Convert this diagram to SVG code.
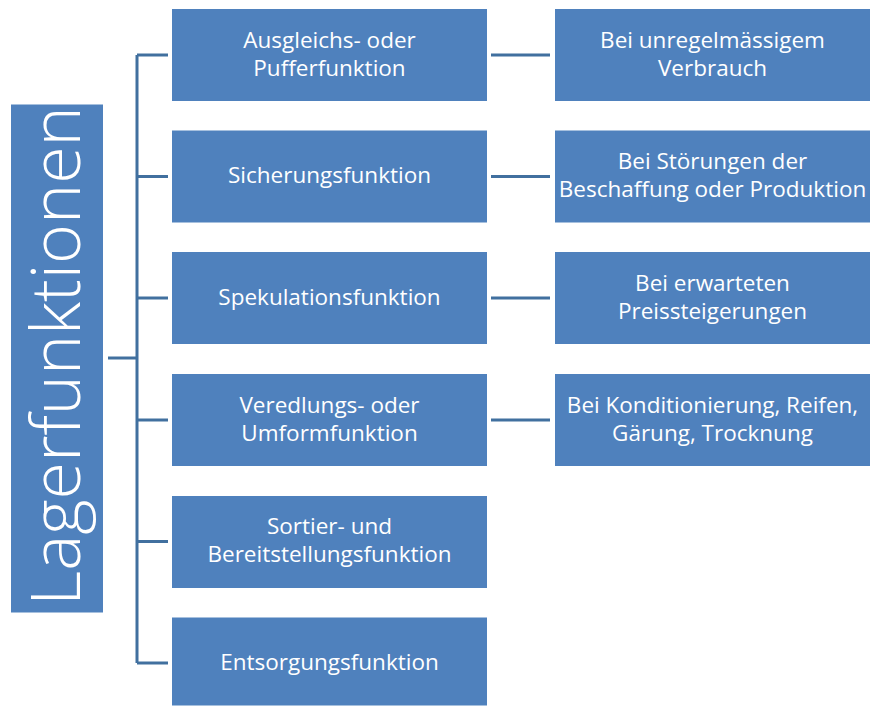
<svg xmlns="http://www.w3.org/2000/svg" width="870" height="706" viewBox="0 0 870 706">
  <style>
    .box { fill: #4F81BD; }
    .lbl { font-family: "Open Sans", "Liberation Sans", sans-serif; font-size: 22.5px; fill: #FFFFFF; text-anchor: middle; }
    .title { font-family: "Open Sans", "Liberation Sans", sans-serif; font-weight: 300; font-size: 68px; fill: #FFFFFF; text-anchor: middle; }
    .conn { stroke: #41709F; stroke-width: 3; fill: none; }
  </style>
  <rect width="870" height="706" fill="#FFFFFF"/>

  <!-- connectors -->
  <g id="connectors" class="conn">
    <line x1="108" y1="358" x2="138" y2="358"/>
    <line x1="137" y1="55" x2="137" y2="663"/>
    <line x1="137" y1="55" x2="168" y2="55"/>
    <line x1="137" y1="176.5" x2="168" y2="176.5"/>
    <line x1="137" y1="298" x2="168" y2="298"/>
    <line x1="137" y1="420" x2="168" y2="420"/>
    <line x1="137" y1="541.5" x2="168" y2="541.5"/>
    <line x1="137" y1="663" x2="168" y2="663"/>
    <line x1="491" y1="55" x2="550" y2="55"/>
    <line x1="491" y1="176.5" x2="550" y2="176.5"/>
    <line x1="491" y1="298" x2="550" y2="298"/>
    <line x1="491" y1="420" x2="550" y2="420"/>
  </g>

  <!-- root -->
  <g id="root">
    <rect class="box" x="11" y="104.5" width="92" height="508"/>
    <text class="title" transform="translate(80 356) rotate(-90)">Lagerfunktionen</text>
  </g>

  <!-- functions -->
  <g id="f1">
    <rect class="box" x="172" y="9" width="315" height="92"/>
    <text class="lbl" x="329.5" y="48">Ausgleichs- oder</text>
    <text class="lbl" x="329.5" y="76">Pufferfunktion</text>
  </g>
  <g id="f2">
    <rect class="box" x="172" y="130.5" width="315" height="92"/>
    <text class="lbl" x="329.5" y="183">Sicherungsfunktion</text>
  </g>
  <g id="f3">
    <rect class="box" x="172" y="252" width="315" height="92"/>
    <text class="lbl" x="329.5" y="305">Spekulationsfunktion</text>
  </g>
  <g id="f4">
    <rect class="box" x="172" y="374" width="315" height="92"/>
    <text class="lbl" x="329.5" y="413">Veredlungs- oder</text>
    <text class="lbl" x="329.5" y="441">Umformfunktion</text>
  </g>
  <g id="f5">
    <rect class="box" x="172" y="496" width="315" height="92"/>
    <text class="lbl" x="329.5" y="534">Sortier- und</text>
    <text class="lbl" x="329.5" y="562">Bereitstellungsfunktion</text>
  </g>
  <g id="f6">
    <rect class="box" x="172" y="617.5" width="315" height="88"/>
    <text class="lbl" x="329.5" y="670">Entsorgungsfunktion</text>
  </g>

  <!-- occasions -->
  <g id="d1">
    <rect class="box" x="555" y="9" width="315" height="92"/>
    <text class="lbl" x="712.5" y="48">Bei unregelmässigem</text>
    <text class="lbl" x="712.5" y="76">Verbrauch</text>
  </g>
  <g id="d2">
    <rect class="box" x="555" y="130.5" width="315" height="92"/>
    <text class="lbl" x="712.5" y="169">Bei Störungen der</text>
    <text class="lbl" x="712.5" y="197">Beschaffung oder Produktion</text>
  </g>
  <g id="d3">
    <rect class="box" x="555" y="252" width="315" height="92"/>
    <text class="lbl" x="712.5" y="291">Bei erwarteten</text>
    <text class="lbl" x="712.5" y="319">Preissteigerungen</text>
  </g>
  <g id="d4">
    <rect class="box" x="555" y="374" width="315" height="92"/>
    <text class="lbl" x="712.5" y="413">Bei Konditionierung, Reifen,</text>
    <text class="lbl" x="712.5" y="441">Gärung, Trocknung</text>
  </g>
</svg>
